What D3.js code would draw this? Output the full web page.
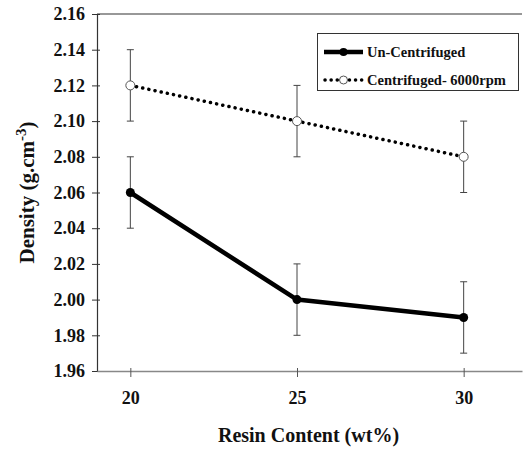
<!DOCTYPE html>
<html>
<head>
<meta charset="utf-8">
<script src="https://cdn.jsdelivr.net/npm/d3@7"></script>
<style>
  html, body { margin: 0; padding: 0; background: #fff; }
  svg { display: block; font-family: "Liberation Serif", "Times New Roman", serif; font-weight: bold; }
</style>
</head>
<body>
<svg id="chart" width="523" height="450"></svg>
<script>
const resin = [20, 25, 30];
const unCentrifuged = [2.06, 2.00, 1.99];
const unCentrifugedErr = [0.02, 0.02, 0.02];
const centrifuged = [2.12, 2.10, 2.08];
const centrifugedErr = [0.02, 0.02, 0.02];
const yTicks = [1.96, 1.98, 2.00, 2.02, 2.04, 2.06, 2.08, 2.10, 2.12, 2.14, 2.16];
const xTicks = [20, 25, 30];
const seriesNames = ["Un-Centrifuged", "Centrifuged- 6000rpm"];

const svg = d3.select("#chart");
const pL = 97, pR = 522, pT = 14, pB = 371;

const x = d3.scaleLinear().domain([19, 31.75]).range([pL, pR]);
const y = d3.scaleLinear().domain([1.96, 2.16]).range([pB, pT]);

// top frame line
svg.append("line").attr("x1", pL).attr("x2", pR).attr("y1", pT).attr("y2", pT)
  .attr("stroke", "#333").attr("stroke-width", 1.2);

// y axis
const yAx = svg.append("g").attr("transform", `translate(${pL},0)`)
  .call(d3.axisLeft(y).tickValues(yTicks).tickFormat(d3.format(".2f")).tickSize(5).tickSizeOuter(0).tickPadding(7));
yAx.select(".domain").attr("stroke", "#333").attr("stroke-width", 1.2);
yAx.selectAll(".tick line").attr("stroke", "#333");
yAx.selectAll(".tick").append("line").attr("x1", 0).attr("x2", 3).attr("stroke", "#333");
yAx.selectAll("text").attr("font-size", 18).attr("font-family", "Liberation Serif").attr("font-weight", "bold").attr("fill", "#111");

// x axis
const xAx = svg.append("g").attr("transform", `translate(0,${pB})`)
  .call(d3.axisBottom(x).tickValues(xTicks).tickFormat(d3.format("d")).tickSize(6).tickSizeOuter(0).tickPadding(14));
xAx.select(".domain").attr("stroke", "#888").attr("stroke-width", 1.5);
xAx.selectAll(".tick line").attr("stroke", "#555");
xAx.selectAll(".tick").append("line").attr("y1", 0).attr("y2", -3).attr("stroke", "#555");
xAx.selectAll("text").attr("font-size", 18).attr("font-family", "Liberation Serif").attr("font-weight", "bold").attr("fill", "#111");

// axis titles
svg.append("text").attr("x", (pL + pR) / 2 - 1).attr("y", 442).attr("text-anchor", "middle")
  .attr("font-size", 20).attr("fill", "#111").text("Resin Content (wt%)");

const yt = svg.append("text").attr("transform", `translate(34,${(pT + pB) / 2}) rotate(-90)`)
  .attr("text-anchor", "middle").attr("font-size", 21).attr("fill", "#111");
yt.append("tspan").text("Density (g.cm");
yt.append("tspan").attr("font-size", 15).attr("dy", -8).text("-3");
yt.append("tspan").attr("dy", 8).text(")");

// error bars
function errorBars(vals, errs) {
  const g = svg.append("g").attr("stroke", "#444").attr("stroke-width", 1);
  resin.forEach((r, i) => {
    const cx = x(r);
    g.append("line").attr("x1", cx).attr("x2", cx).attr("y1", y(vals[i] - errs[i])).attr("y2", y(vals[i] + errs[i]));
    g.append("line").attr("x1", cx - 3.5).attr("x2", cx + 3.5).attr("y1", y(vals[i] - errs[i])).attr("y2", y(vals[i] - errs[i]));
    g.append("line").attr("x1", cx - 3.5).attr("x2", cx + 3.5).attr("y1", y(vals[i] + errs[i])).attr("y2", y(vals[i] + errs[i]));
  });
}
errorBars(centrifuged, centrifugedErr);
errorBars(unCentrifuged, unCentrifugedErr);

const line = d3.line().x((d, i) => x(resin[i])).y(d => y(d));

svg.append("path").datum(unCentrifuged).attr("d", line).attr("fill", "none")
  .attr("stroke", "#000").attr("stroke-width", 4.5).attr("stroke-linejoin", "round");
svg.append("path").datum(centrifuged).attr("d", line).attr("fill", "none")
  .attr("stroke", "#000").attr("stroke-width", 3.5).attr("stroke-linecap", "round").attr("stroke-dasharray", "0.1 6.2");

svg.selectAll(".m1").data(unCentrifuged).enter().append("circle")
  .attr("cx", (d, i) => x(resin[i])).attr("cy", d => y(d)).attr("r", 4.5).attr("fill", "#000");
svg.selectAll(".m2").data(centrifuged).enter().append("circle")
  .attr("cx", (d, i) => x(resin[i])).attr("cy", d => y(d)).attr("r", 4.5).attr("fill", "#fff").attr("stroke", "#555").attr("stroke-width", 1);

// legend
const lg = svg.append("g");
lg.append("rect").attr("x", 317.5).attr("y", 33.5).attr("width", 201).attr("height", 57)
  .attr("fill", "#fff").attr("stroke", "#333").attr("stroke-width", 1);
const ly = [52, 80];
lg.append("line").attr("x1", 324).attr("x2", 363).attr("y1", ly[0]).attr("y2", ly[0])
  .attr("stroke", "#000").attr("stroke-width", 4.5);
lg.append("circle").attr("cx", 343.5).attr("cy", ly[0]).attr("r", 4).attr("fill", "#000");
lg.append("line").attr("x1", 325).attr("x2", 363).attr("y1", ly[1]).attr("y2", ly[1])
  .attr("stroke", "#000").attr("stroke-width", 3.5).attr("stroke-linecap", "round").attr("stroke-dasharray", "0.1 6");
lg.append("circle").attr("cx", 343.5).attr("cy", ly[1]).attr("r", 4).attr("fill", "#fff").attr("stroke", "#555");
seriesNames.forEach((n, i) => {
  lg.append("text").attr("x", 367).attr("y", ly[i] + 5).attr("font-size", 14.5).attr("fill", "#111").text(n);
});
</script>
</body>
</html>
